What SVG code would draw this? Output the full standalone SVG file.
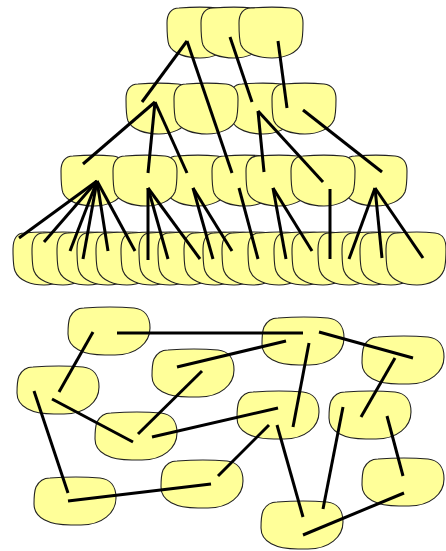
<svg xmlns="http://www.w3.org/2000/svg" xmlns:xlink="http://www.w3.org/1999/xlink" width="446" height="551" viewBox="0 0 446 551">
<style>
.n{fill:#ffff99;stroke:#222;stroke-width:1.1}
.e{stroke:#000;stroke-width:3;fill:none;stroke-linecap:butt}
</style>
<defs>
<path id="tn" class="n" d="M12,0 C24,-1 42,-1 52,0 C60,1 64,6 64,15 C64,24 64,30 62,36 C58,45 46,50 33,50 C20,50 6,46 2,37 C0,32 0,22 0,15 C0,6 4,0 12,0 Z"/>
<path id="ln" class="n" d="M11,0 C22,-1 40,-1 49,0 C57,1 60,6 60,16 C60,25 60,31 58,37 C54,47 43,52 31,52 C19,52 6,48 2,38 C0,33 0,23 0,16 C0,6 4,0 11,0 Z"/>
<path id="gn" class="n" d="M16,0 C30,-1 54,-1 66,0 C76,1 82,8 82,20 C82,35 68,47 47,47 L37,47 C15,47 0,40 0,26 C0,20 0,14 2,9 C5,3 9,0 16,0 Z"/>
</defs>
<rect width="446" height="551" fill="#fff"/>
<g id="tree-nodes">
<g id="A"><use xlink:href="#tn" x="167" y="8"/></g>
<g id="B"><use xlink:href="#tn" x="201" y="8"/></g>
<g id="C"><use xlink:href="#tn" x="239" y="8"/></g>
<g id="D"><use xlink:href="#tn" x="126" y="84"/></g>
<g id="F"><use xlink:href="#tn" x="230" y="84"/></g>
<g id="E"><use xlink:href="#tn" x="174" y="84"/></g>
<g id="G"><use xlink:href="#tn" x="272" y="84"/></g>
<g id="H"><use xlink:href="#tn" x="61" y="156"/></g>
<g id="J"><use xlink:href="#tn" x="165" y="156"/></g>
<g id="I"><use xlink:href="#tn" x="113" y="156"/></g>
<g id="K"><use xlink:href="#tn" x="212" y="156"/></g>
<g id="L"><use xlink:href="#tn" x="246" y="156"/></g>
<g id="N"><use xlink:href="#tn" x="343" y="156"/></g>
<g id="M"><use xlink:href="#tn" x="291" y="156"/></g>
<g id="leaf1"><use xlink:href="#ln" x="13" y="233"/></g>
<g id="leaf2"><use xlink:href="#ln" x="32" y="233"/></g>
<g id="leaf3"><use xlink:href="#ln" x="57" y="233"/></g>
<g id="leaf4"><use xlink:href="#ln" x="77" y="233"/></g>
<g id="leaf5"><use xlink:href="#ln" x="96" y="233"/></g>
<g id="leaf6"><use xlink:href="#ln" x="121" y="233"/></g>
<g id="leaf7"><use xlink:href="#ln" x="139" y="233"/></g>
<g id="leaf8"><use xlink:href="#ln" x="158" y="233"/></g>
<g id="leaf9"><use xlink:href="#ln" x="184" y="233"/></g>
<g id="leaf10"><use xlink:href="#ln" x="203" y="233"/></g>
<g id="leaf11"><use xlink:href="#ln" x="222" y="233"/></g>
<g id="leaf12"><use xlink:href="#ln" x="248" y="233"/></g>
<g id="leaf13"><use xlink:href="#ln" x="274" y="233"/></g>
<g id="leaf14"><use xlink:href="#ln" x="292" y="233"/></g>
<g id="leaf15"><use xlink:href="#ln" x="318" y="233"/></g>
<g id="leaf16"><use xlink:href="#ln" x="342" y="233"/></g>
<g id="leaf17"><use xlink:href="#ln" x="360" y="233"/></g>
<g id="leaf18"><use xlink:href="#ln" x="386" y="233"/></g>
</g>
<g id="graph-nodes">
<g id="P1"><use xlink:href="#gn" x="68" y="308"/></g>
<g id="P2"><use xlink:href="#gn" x="262" y="318"/></g>
<g id="P3"><use xlink:href="#gn" x="362" y="337"/></g>
<g id="P4"><use xlink:href="#gn" x="152" y="350"/></g>
<g id="P5"><use xlink:href="#gn" x="17" y="367"/></g>
<g id="P6"><use xlink:href="#gn" x="95" y="413"/></g>
<g id="P7"><use xlink:href="#gn" x="237" y="392"/></g>
<g id="P8"><use xlink:href="#gn" x="329" y="392"/></g>
<g id="P9"><use xlink:href="#gn" x="161" y="461"/></g>
<g id="P10"><use xlink:href="#gn" x="34" y="478"/></g>
<g id="P11"><use xlink:href="#gn" x="362" y="459"/></g>
<g id="P12"><use xlink:href="#gn" x="261" y="502"/></g>
</g>
<g id="connectors" class="e">
<line x1="187" y1="41" x2="142" y2="102"/>
<line x1="187" y1="41" x2="232" y2="173"/>
<line x1="230" y1="37" x2="252" y2="102"/>
<line x1="278" y1="41" x2="287" y2="108"/>
<line x1="155" y1="102" x2="83" y2="164"/>
<line x1="155" y1="102" x2="148" y2="173"/>
<line x1="155" y1="102" x2="187" y2="173"/>
<line x1="258" y1="111" x2="264" y2="172"/>
<line x1="258" y1="111" x2="323" y2="182"/>
<line x1="303" y1="110" x2="382" y2="172"/>
<line x1="97" y1="181" x2="19" y2="238"/>
<line x1="97" y1="181" x2="44" y2="242"/>
<line x1="97" y1="181" x2="70" y2="251"/>
<line x1="97" y1="181" x2="83" y2="259"/>
<line x1="97" y1="181" x2="108" y2="251"/>
<line x1="97" y1="181" x2="135" y2="251"/>
<line x1="148" y1="188" x2="148" y2="260"/>
<line x1="148" y1="188" x2="168" y2="259"/>
<line x1="148" y1="188" x2="200" y2="259"/>
<line x1="193" y1="188" x2="213" y2="259"/>
<line x1="193" y1="188" x2="232" y2="251"/>
<line x1="239" y1="188" x2="258" y2="259"/>
<line x1="273" y1="188" x2="286" y2="259"/>
<line x1="273" y1="188" x2="312" y2="251"/>
<line x1="330" y1="189" x2="330" y2="259"/>
<line x1="375" y1="188" x2="349" y2="259"/>
<line x1="375" y1="188" x2="382" y2="258"/>
<line x1="375" y1="188" x2="423" y2="258"/>
<line x1="117" y1="333" x2="303" y2="333"/>
<line x1="93" y1="332" x2="59" y2="392"/>
<line x1="286" y1="341" x2="177" y2="367"/>
<line x1="319" y1="332" x2="413" y2="358"/>
<line x1="309" y1="343" x2="293" y2="427"/>
<line x1="202" y1="371" x2="138" y2="434"/>
<line x1="52" y1="399" x2="133" y2="442"/>
<line x1="34" y1="391" x2="68" y2="493"/>
<line x1="152" y1="437" x2="278" y2="408"/>
<line x1="395" y1="358" x2="361" y2="417"/>
<line x1="269" y1="425" x2="218" y2="476"/>
<line x1="68" y1="501" x2="211" y2="484"/>
<line x1="277" y1="425" x2="303" y2="517"/>
<line x1="343" y1="407" x2="323" y2="509"/>
<line x1="387" y1="416" x2="403" y2="476"/>
<line x1="404" y1="493" x2="303" y2="535"/>
</g>
</svg>
